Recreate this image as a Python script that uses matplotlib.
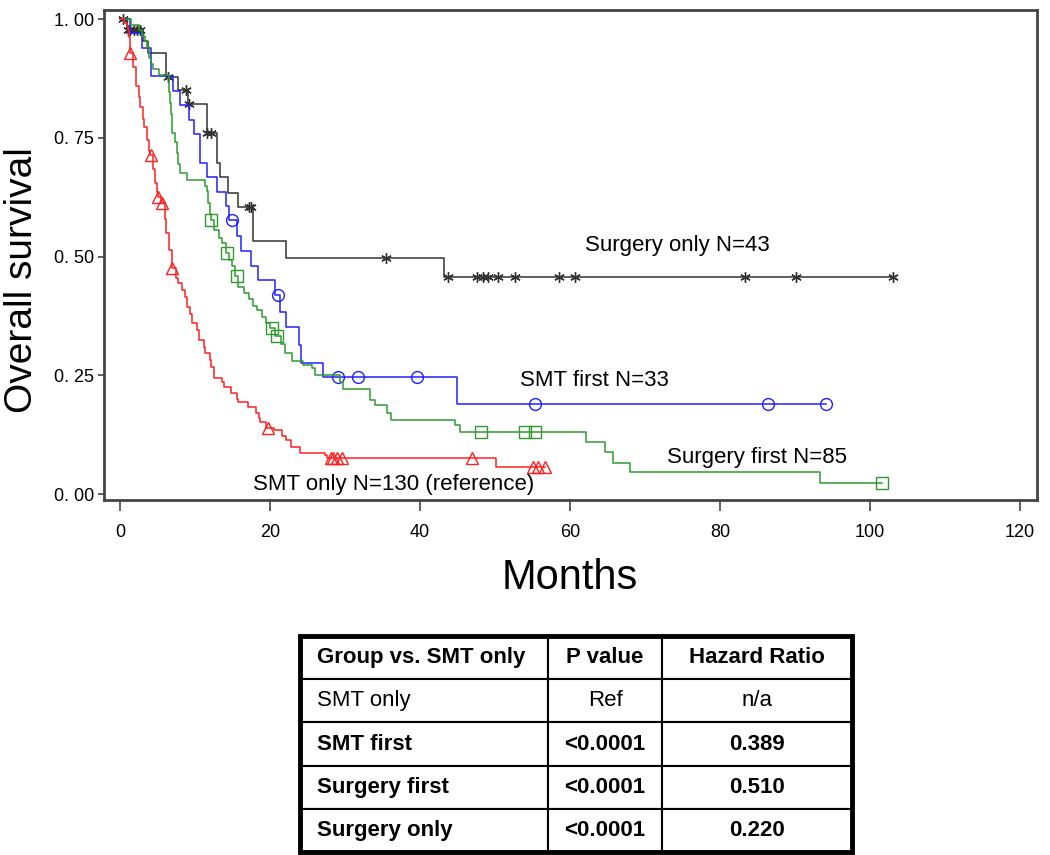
import numpy as np
import matplotlib
matplotlib.use('Agg')
import matplotlib.pyplot as plt
from matplotlib.patches import Rectangle

plt.rcParams['font.family'] = ['Liberation Sans', 'DejaVu Sans']

# Kaplan-Meier step curves (months, survival after step)
# SMT only N=130 (red)
smt_only_t = [0, 0.6, 0.9, 1.1, 1.2, 1.3, 1.35, 1.7, 2.1, 2.2, 2.6, 2.7, 3.1, 3.2, 3.6, 3.9, 4.0,
              4.4, 4.7, 5.0, 5.1, 5.5, 6.0, 6.2, 6.6, 6.9, 7.0, 7.5, 7.8, 8.3, 8.7, 9.0, 9.4, 9.6,
              10.3, 10.5, 11.2, 11.4, 12.0, 12.2, 12.6, 13.6, 13.9, 14.8, 15.6, 15.8, 17.1, 18.2,
              18.5, 18.7, 19.5, 20.5, 21.6, 22.1, 22.8, 24.0, 27.3, 27.6, 50.2, 56.7]
smt_only_s = [1.0, 0.992, 0.985, 0.977, 0.963, 0.94, 0.928, 0.9, 0.877, 0.858, 0.835, 0.815, 0.79,
              0.773, 0.745, 0.722, 0.714, 0.685, 0.654, 0.635, 0.626, 0.612, 0.58, 0.549, 0.514,
              0.49, 0.475, 0.455, 0.444, 0.43, 0.415, 0.394, 0.38, 0.36, 0.345, 0.324, 0.31, 0.296,
              0.282, 0.268, 0.244, 0.235, 0.226, 0.212, 0.2, 0.194, 0.184, 0.17, 0.16, 0.152, 0.14,
              0.135, 0.122, 0.114, 0.1, 0.086, 0.082, 0.075, 0.056, 0.056]
smt_only_cens = [1.4, 4.1, 5.1, 5.6, 7.0, 19.7, 28.1, 28.4, 28.9, 29.6, 47.0, 55.1, 55.8, 56.7]

# SMT first N=33 (blue)
smt_first_t = [0, 1.3, 3.0, 4.2, 7.1, 8.0, 9.2, 9.9, 10.7, 11.6, 13.0, 14.2, 14.5, 15.6, 16.2,
               17.5, 18.4, 20.7, 21.3, 22.1, 23.9, 24.2, 27.1, 45.0, 94.2]
smt_first_s = [1.0, 0.970, 0.939, 0.879, 0.848, 0.818, 0.788, 0.758, 0.697, 0.667, 0.636, 0.606,
               0.577, 0.543, 0.512, 0.481, 0.451, 0.419, 0.384, 0.352, 0.314, 0.275, 0.247, 0.189,
               0.189]
smt_first_cens = [15.0, 21.1, 29.1, 31.8, 39.6, 55.4, 86.4, 94.2]

# Surgery first N=85 (green)
surg_first_t = [0, 1.5, 2.5, 3.0, 3.3, 3.6, 3.9, 4.1, 4.4, 5.2, 6.5, 6.6, 6.7, 6.8, 6.9, 7.0, 7.3,
                7.6, 7.8, 8.0, 9.0, 11.3, 11.6, 11.8, 12.0, 12.1, 12.6, 13.2, 13.6, 14.2, 14.6,
                15.0, 15.3, 15.8, 16.5, 17.2, 17.8, 18.3, 19.0, 19.5, 20.0, 20.7, 21.5, 22.0, 23.0,
                24.4, 25.6, 26.0, 29.3, 29.8, 33.3, 34.0, 35.6, 36.2, 44.7, 45.3, 62.2, 64.7, 65.8,
                68.0, 93.3, 101.6]
surg_first_s = [1.0, 0.988, 0.976, 0.965, 0.953, 0.941, 0.918, 0.906, 0.894, 0.882, 0.870, 0.847,
                0.823, 0.8, 0.776, 0.76, 0.741, 0.718, 0.694, 0.675, 0.661, 0.649, 0.637, 0.613,
                0.589, 0.577, 0.556, 0.540, 0.528, 0.507, 0.493, 0.481, 0.458, 0.436, 0.424, 0.410,
                0.396, 0.387, 0.372, 0.36, 0.349, 0.333, 0.316, 0.296, 0.279, 0.272, 0.265, 0.25,
                0.236, 0.222, 0.198, 0.187, 0.17, 0.156, 0.145, 0.131, 0.11, 0.089, 0.065, 0.047,
                0.0225, 0.0225]
surg_first_cens = [12.1, 14.3, 15.6, 20.3, 21.0, 48.2, 54.0, 55.4, 101.6]

# Surgery only N=43 (black)
surg_only_t = [0, 0.9, 3.1, 3.8, 6.2, 7.7, 9.1, 11.6, 12.9, 13.3, 14.4, 15.7, 17.8, 22.1, 43.2, 103.1]
surg_only_s = [1.0, 0.977, 0.953, 0.929, 0.878, 0.851, 0.822, 0.76, 0.696, 0.668, 0.633, 0.605,
               0.533, 0.497, 0.457, 0.457]
surg_only_cens = [0.4, 1.1, 1.4, 1.9, 2.3, 2.7, 6.4, 8.8, 9.2, 11.6, 12.1, 17.2, 17.5, 35.5, 43.8,
                  47.6, 48.4, 49.1, 50.4, 52.7, 58.5, 60.7, 83.4, 90.2, 103.1]

# table
header = ['Group vs. SMT only', 'P value', 'Hazard Ratio']
groups = ['SMT only', 'SMT first', 'Surgery first', 'Surgery only']
p_values = ['Ref', '<0.0001', '<0.0001', '<0.0001']
hazard_ratios = ['n/a', '0.389', '0.510', '0.220']


def km(ax, t, s, cens, color, marker, ms):
    t = np.asarray(t)
    s = np.asarray(s)
    ax.step(t, s, where='post', color=color, lw=1.1)
    cv = s[np.searchsorted(t, cens, side='right') - 1]
    ax.plot(cens, cv, ls='none', marker=marker, mfc='none', mec=color, ms=ms, mew=1.0)


fig = plt.figure(figsize=(10.5, 8.55), dpi=100)
ax = fig.add_axes([104 / 1050, 1 - 500 / 855, 933 / 1050, 490 / 855])

km(ax, surg_only_t, surg_only_s, surg_only_cens, '#333333', (6, 2, 0), 7.5)
km(ax, smt_first_t, smt_first_s, smt_first_cens, '#1f1fff', 'o', 8.5)
km(ax, surg_first_t, surg_first_s, surg_first_cens, '#2e9a2e', 's', 8.5)
km(ax, smt_only_t, smt_only_s, smt_only_cens, '#ff2020', '^', 8.5)

ax.text(62, 0.524, 'Surgery only N=43', fontsize=16, va='center')
ax.text(53.3, 0.238, 'SMT first N=33', fontsize=16, va='center')
ax.text(72.9, 0.076, 'Surgery first N=85', fontsize=16, va='center')
ax.text(17.7, 0.021, 'SMT only N=130 (reference)', fontsize=16, va='center')

ax.set_xlim(-2.13, 122.3)
ax.set_ylim(-0.0126, 1.019)
ax.set_xticks(range(0, 121, 20))
ax.set_yticks([0, 0.25, 0.5, 0.75, 1.0])
ax.set_yticklabels(['0. 00', '0. 25', '0. 50', '0. 75', '1. 00'])
ax.tick_params(axis='x', direction='out', length=8, width=1.2, color='#444444',
               labelsize=13, pad=9)
ax.tick_params(axis='y', direction='out', length=4, width=1.2, color='#444444',
               labelsize=13, pad=3)
for sp in ax.spines.values():
    sp.set_color('#444444')
    sp.set_linewidth(2)

ax.set_xlabel('Months', fontsize=30, va='center')
ax.xaxis.set_label_coords(0.4995, -0.159)
ax.set_ylabel('Overall survival', fontsize=28, va='center')
ax.yaxis.set_label_coords(-0.088, 0.449)

# results table
tax = fig.add_axes([300 / 1050, 3 / 855, 552 / 1050, 216 / 855])
tax.axis('off')
rows = [header] + [[g, p, h] for g, p, h in zip(groups, p_values, hazard_ratios)]
tbl = tax.table(cellText=rows, colWidths=[248, 114, 190], bbox=[0, 0, 1, 1],
                cellLoc='center')
tbl.auto_set_font_size(False)
tbl.set_fontsize(16)
for (r, c), cell in tbl.get_celld().items():
    cell.set_linewidth(1.5)
    cell.set_edgecolor('black')
    cell.PAD = 0.07
    if c == 0:
        cell.get_text().set_ha('left')
        cell._loc = 'left'
    if r == 0 or r >= 2:
        cell.get_text().set_fontweight('bold')
tax.add_patch(Rectangle((0, 0), 1, 1, transform=tax.transAxes, fill=False,
                        lw=3.5, edgecolor='black', clip_on=False))

fig.savefig('out.png', dpi=100)
